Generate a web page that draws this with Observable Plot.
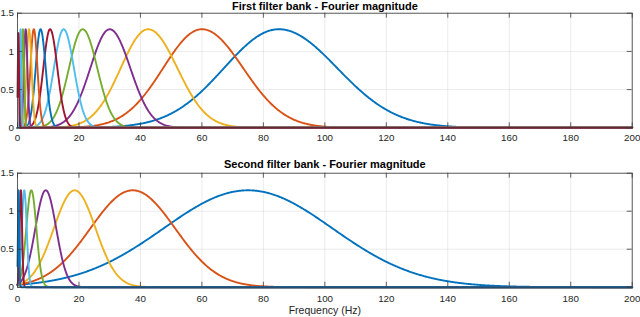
<!DOCTYPE html>
<html><head><meta charset="utf-8">
<script src="https://cdn.jsdelivr.net/npm/d3@7"></script>
<script src="https://cdn.jsdelivr.net/npm/@observablehq/plot@0.6"></script>
<style>
body{margin:0;background:#fff;}
#chart{width:640px;height:317px;position:relative;overflow:hidden;}
#chart svg{display:block;}
</style>
</head><body><div id="chart"></div>
<script>
// ---- Data ----
const xTicks = [0, 20, 40, 60, 80, 100, 120, 140, 160, 180, 200];
const yTicks = [0, 0.5, 1, 1.5];
const yTickLabels = ["0", "0.5", "1", "1.5"];
const lineColors = ["#0072BD", "#D95319", "#EDB120", "#7E2F8E", "#77AC30", "#4DBEEE", "#A2142F"];

const topTitle = "First filter bank - Fourier magnitude";
// centre frequency (Hz), left/right bandwidth (Hz), peak magnitude of each filter
const topCenters = [85, 60, 42.5, 30, 21.2, 15, 10.6, 7.5, 5.3, 3.75, 2.65, 1.75, 1.0, 0.3];
const topWidthL  = [17.8, 12.6, 8.9, 6.3, 4.45, 3.15, 2.2, 1.58, 1.11, 0.79, 0.56, 0.37, 0.21, 0.2];
const topWidthR  = [19.0, 13.4, 9.5, 6.7, 4.75, 3.36, 2.37, 1.68, 1.19, 0.84, 0.59, 0.39, 0.22, 0.2];
const topPeaks   = [1.29, 1.29, 1.29, 1.29, 1.29, 1.29, 1.29, 1.29, 1.29, 1.29, 1.29, 1.29, 1.29, 1.24];

const bottomTitle = "Second filter bank - Fourier magnitude";
const bottomCenters = [75, 37.5, 18.6, 9.2, 4.5, 2.2, 1.1, 0.35];
const bottomWidthL  = [27.5, 13.8, 6.8, 3.4, 1.65, 0.8, 0.4, 0.2];
const bottomWidthR  = [27.5, 13.8, 6.8, 3.4, 1.65, 0.8, 0.4, 0.2];
const bottomPeaks   = [1.275, 1.275, 1.275, 1.275, 1.275, 1.275, 1.275, 1.275];

const xLabel = "Frequency (Hz)";

// ---- frequency grid on which each filter response is evaluated ----
const freqs = [];
for (let f = 0; f < 3; f += 0.01) freqs.push(+f.toFixed(3));
for (let f = 3; f < 20; f += 0.05) freqs.push(+f.toFixed(3));
for (let f = 20; f <= 200.0001; f += 0.25) freqs.push(+f.toFixed(3));

function response(c, wl, wr, p) {
  return freqs.map(f => {
    const w = f < c ? wl : wr;
    return {f, v: p * Math.exp(-((f - c) ** 2) / (2 * w * w))};
  });
}

const FONT = "'Liberation Sans', Arial, Helvetica, sans-serif";
const INK = "#262626";

function panel({centers, wl, wr, peaks, title, height, mt, mb, titleDy, tickPad, withXLabel}) {
  const ml = 17, mr = 8.3, width = 640;
  const ph = height - mt - mb, pw = width - ml - mr;
  const marks = [
    Plot.gridX(xTicks, {stroke: "#000", strokeOpacity: 0.1, strokeWidth: 0.8}),
    Plot.gridY(yTicks, {stroke: "#000", strokeOpacity: 0.1, strokeWidth: 0.8}),
  ];
  centers.forEach((c, i) => {
    marks.push(Plot.line(response(c, wl[i], wr[i], peaks[i]), {
      x: "f", y: "v", stroke: lineColors[i % lineColors.length], strokeWidth: 1.9
    }));
  });
  marks.push(
    Plot.frame({stroke: "#3a3a3a", strokeWidth: 0.8}),
    // inward ticks (bottom, top, left, right)
    Plot.tickX(xTicks, {x: d => d, insetTop: ph - 5, stroke: "#3a3a3a", strokeWidth: 0.8}),
    Plot.tickX(xTicks, {x: d => d, insetBottom: ph - 5, stroke: "#3a3a3a", strokeWidth: 0.8}),
    Plot.tickY(yTicks, {y: d => d, insetRight: pw - 5, stroke: "#3a3a3a", strokeWidth: 0.8}),
    Plot.tickY(yTicks, {y: d => d, insetLeft: pw - 5, stroke: "#3a3a3a", strokeWidth: 0.8}),
    Plot.axisX(xTicks, {tickSize: 0, tickPadding: tickPad, fontSize: 9.8, fill: INK, label: null, tickFormat: d => String(d)}),
    Plot.axisY(yTicks, {tickSize: 0, tickPadding: 3.5, fontSize: 9.8, fill: INK, label: null, tickFormat: d => yTickLabels[yTicks.indexOf(d)]}),
    Plot.text([title], {frameAnchor: "top", lineAnchor: "bottom", dy: titleDy, fontWeight: "bold", fontSize: 11, fill: "#000"})
  );
  if (withXLabel) {
    marks.push(Plot.text([xLabel], {frameAnchor: "bottom", lineAnchor: "bottom", dy: 27, fontSize: 10.5, fill: INK}));
  }
  return Plot.plot({
    width, height,
    marginTop: mt, marginBottom: mb, marginLeft: ml, marginRight: mr,
    x: {domain: [0, 200]},
    y: {domain: [0, 1.5]},
    style: {fontFamily: FONT, background: "white", color: INK, overflow: "visible"},
    marks
  });
}

const chart = document.getElementById("chart");
chart.appendChild(panel({
  centers: topCenters, wl: topWidthL, wr: topWidthR, peaks: topPeaks, title: topTitle,
  height: 150, mt: 12.7, mb: 22.7, titleDy: -3.5, tickPad: 6, withXLabel: false
}));
chart.appendChild(panel({
  centers: bottomCenters, wl: bottomWidthL, wr: bottomWidthR, peaks: bottomPeaks, title: bottomTitle,
  height: 167, mt: 22.7, mb: 30.3, titleDy: -5.5, tickPad: 7.5, withXLabel: true
}));
</script>
</body></html>
